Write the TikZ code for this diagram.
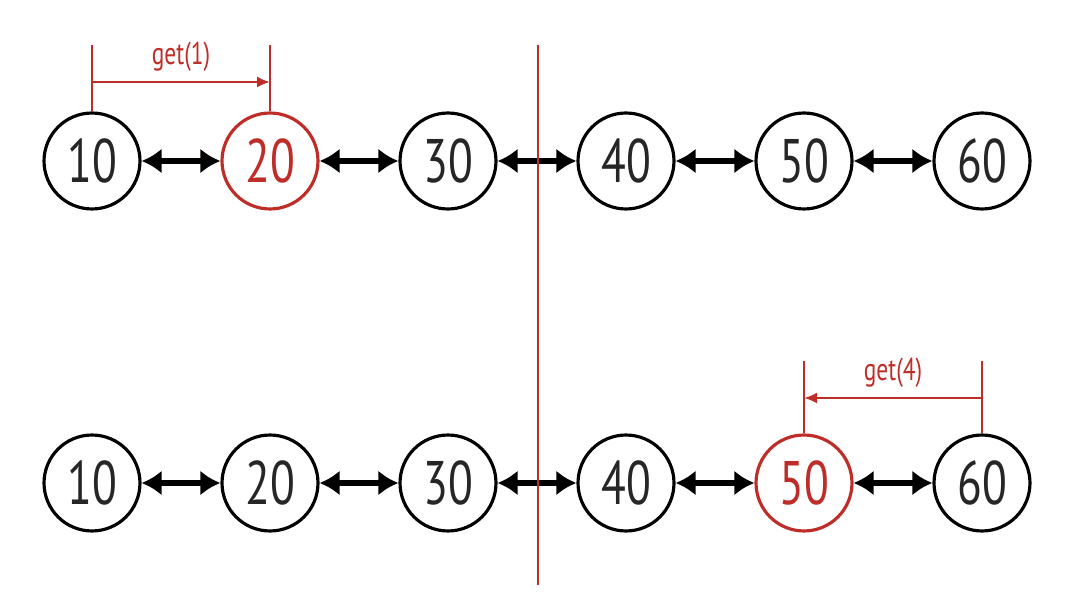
\documentclass[tikz,border=0pt]{standalone}
\usepackage{fontspec}
\setmainfont{PT Sans}[FakeStretch=0.74]
\usetikzlibrary{arrows.meta}
\definecolor{getred}{RGB}{190,45,40}
\begin{document}
\begin{tikzpicture}[x=0.02cm,y=-0.02cm,
    elem/.style={circle,draw,line width=1.8pt,minimum size=1.92cm,inner sep=0pt,
      text=black!85,font=\fontsize{35}{35}\selectfont},
    hit/.style={elem,draw=getred,text=getred},
    link/.style={line width=3.8pt,{Latex[length=0.4cm,width=0.5cm]}-{Latex[length=0.4cm,width=0.5cm]}},
    bar/.style={getred,line width=1.2pt},
    lbl/.style={getred,font=\fontsize{18}{18}\selectfont}]
  \useasboundingbox (0,0) rectangle (1086,594);
  % upper list
  \node[elem] (a1) at (92,161) {10};
  \node[hit]  (a2) at (270,161) {20};
  \node[elem] (a3) at (448,161) {30};
  \node[elem] (a4) at (626,161) {40};
  \node[elem] (a5) at (804,161) {50};
  \node[elem] (a6) at (982,161) {60};
  % lower list
  \node[elem] (b1) at (92,483) {10};
  \node[elem] (b2) at (270,483) {20};
  \node[elem] (b3) at (448,483) {30};
  \node[elem] (b4) at (626,483) {40};
  \node[hit]  (b5) at (804,483) {50};
  \node[elem] (b6) at (982,483) {60};
  \foreach \i/\j in {1/2,2/3,3/4,4/5,5/6} {
    \draw[link] (a\i) -- (a\j);
    \draw[link] (b\i) -- (b\j);
  }
  % middle split
  \coordinate (top) at (538,45);
  \coordinate (bot) at (538,585);
  \draw[bar] (top) -- (bot);
  % get(1)
  \coordinate (g1) at (0,45);
  \coordinate (h1) at (0,82);
  \draw[bar] (a1.north) -- (a1 |- g1);
  \draw[bar] (a2.north) -- (a2 |- g1);
  \draw[bar,-{Latex[length=0.26cm,width=0.22cm]}] (a1 |- h1) -- (a2 |- h1)
    node[lbl,midway,above=2pt] {get(1)};
  % get(4)
  \coordinate (g4) at (0,361);
  \coordinate (h4) at (0,398);
  \draw[bar] (b5.north) -- (b5 |- g4);
  \draw[bar] (b6.north) -- (b6 |- g4);
  \draw[bar,-{Latex[length=0.26cm,width=0.22cm]}] (b6 |- h4) -- (b5 |- h4)
    node[lbl,midway,above=2pt] {get(4)};
\end{tikzpicture}
\end{document}
